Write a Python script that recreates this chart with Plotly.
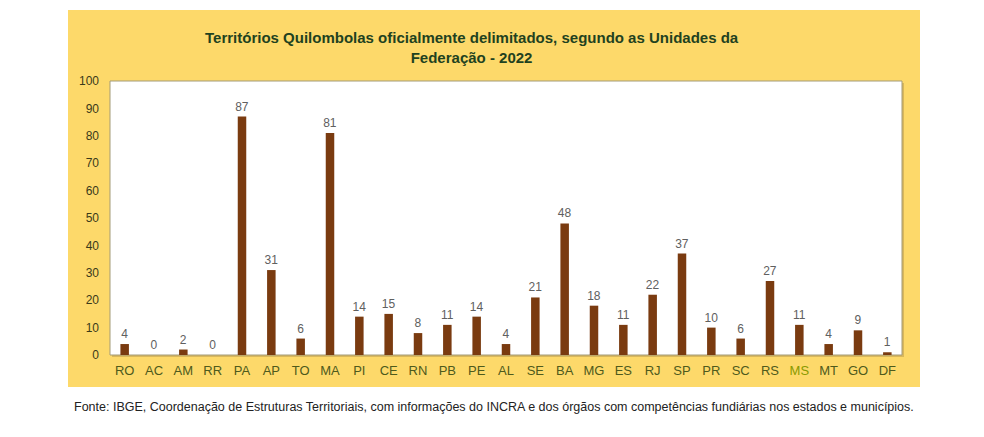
import plotly.graph_objects as go

ufs = ["RO", "AC", "AM", "RR", "PA", "AP", "TO", "MA", "PI", "CE", "RN", "PB", "PE", "AL",
       "SE", "BA", "MG", "ES", "RJ", "SP", "PR", "SC", "RS", "MS", "MT", "GO", "DF"]
territorios = [4, 0, 2, 0, 87, 31, 6, 81, 14, 15, 8, 11, 14, 4,
               21, 48, 18, 11, 22, 37, 10, 6, 27, 11, 4, 9, 1]
y_ticks = [0, 10, 20, 30, 40, 50, 60, 70, 80, 90, 100]

title_text = ("<b>Territórios Quilombolas oficialmente delimitados, segundo as Unidades da<br>"
              "Federação - 2022</b>")
source_text = ("Fonte: IBGE, Coordenação de Estruturas Territoriais, com informações do INCRA e dos "
               "órgãos com competências fundiárias nos estados e municípios.")

W, H = 984, 437
L, R, T, B = 110, 902, 81, 355  # plot area in pixels

def px(x):
    return (x - L) / (R - L)

def py(y):
    return (B - y) / (B - T)

tick_labels = [f"<span style='color:#8a9a00'>{u}</span>" if u == "MS" else u for u in ufs]

fig = go.Figure()
fig.add_trace(go.Bar(
    x=ufs, y=territorios,
    marker=dict(color="#7a3b10", line=dict(width=0)),
    text=[str(v) for v in territorios],
    textposition="outside",
    textangle=0,
    constraintext="none",
    textfont=dict(family="Liberation Sans, Arial", size=12, color="#606060"),
    cliponaxis=False,
    width=0.29,
))

fig.update_layout(
    width=W, height=H,
    margin=dict(l=L, r=W - R, t=T, b=H - B),
    paper_bgcolor="white",
    plot_bgcolor="rgba(0,0,0,0)",
    showlegend=False,
    font=dict(family="Liberation Sans, Arial", size=12, color="#333333"),
    xaxis=dict(
        tickmode="array", tickvals=ufs, ticktext=tick_labels,
        showgrid=False, zeroline=False, showline=False, ticks="",
        tickfont=dict(size=13, color="#4e5a1c"),
        ticklabelstandoff=6,
        fixedrange=True,
    ),
    yaxis=dict(
        range=[0, 100], tickmode="array", tickvals=y_ticks,
        showgrid=False, zeroline=False, showline=False, ticks="",
        tickfont=dict(size=12, color="#3a3a1a"),
        ticklabelstandoff=10,
        fixedrange=True,
    ),
    shapes=[
        dict(type="rect", xref="paper", yref="paper", layer="below",
             x0=px(68), x1=px(920), y0=py(387), y1=py(10),
             fillcolor="#fdd96a", line=dict(width=0)),
        dict(type="rect", xref="paper", yref="paper", layer="below",
             x0=px(L + 2), x1=px(R + 2), y0=py(B + 2), y1=py(T + 2),
             fillcolor="#d9b75a", line=dict(width=0)),
        dict(type="rect", xref="paper", yref="paper", layer="below",
             x0=0, x1=1, y0=0, y1=1,
             fillcolor="white", line=dict(color="#a39b78", width=1)),
    ],
    annotations=[
        dict(text=title_text, xref="paper", yref="paper",
             x=px(472), y=py(48), xanchor="center", yanchor="middle",
             showarrow=False, align="center",
             font=dict(family="Liberation Sans, Arial", size=15, color="#1f4220")),
        dict(text=source_text, xref="paper", yref="paper",
             x=px(72), y=py(407), xanchor="left", yanchor="middle",
             showarrow=False,
             font=dict(family="Liberation Sans Narrow, Liberation Sans, Arial", size=12.5, color="#222222")),
    ],
)

fig.write_html("out.html")
